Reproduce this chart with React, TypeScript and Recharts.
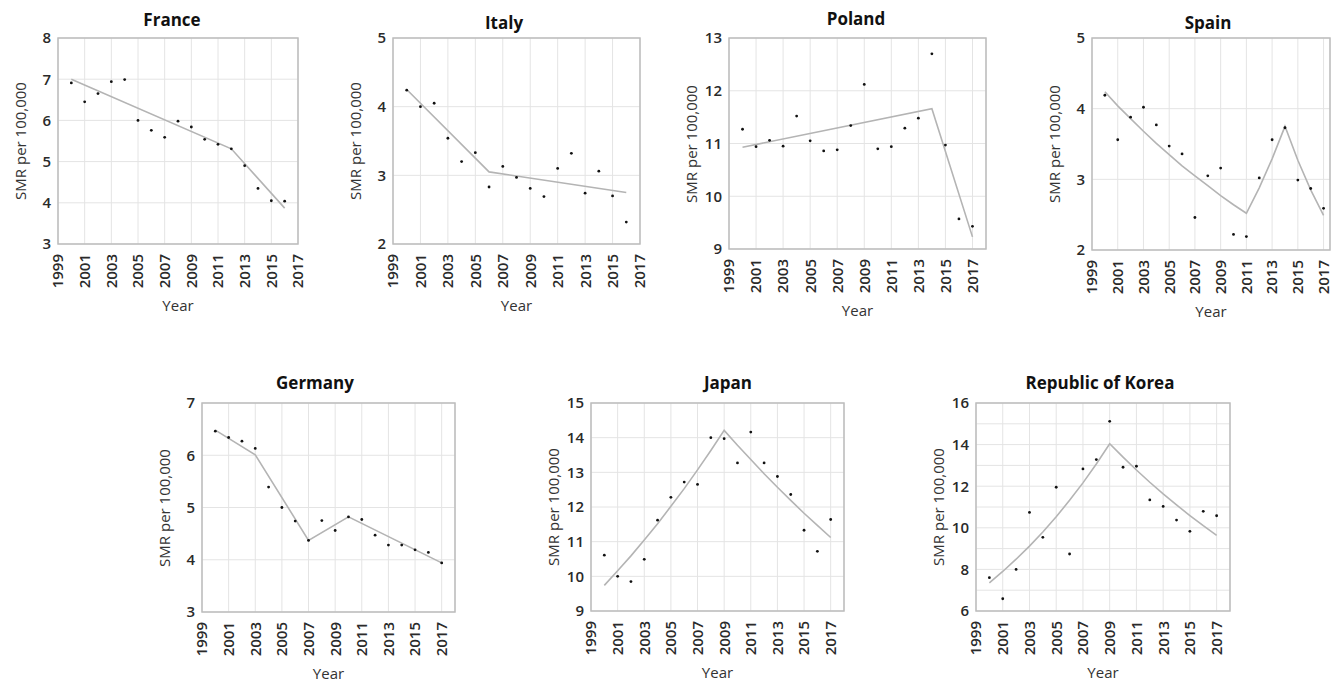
import React from "react";
import {
  LineChart,
  Line,
  XAxis,
  YAxis,
  CartesianGrid,
  ReferenceArea,
} from "recharts";

const FONT = '"Open Sans", "DejaVu Sans", sans-serif';

const years = [2000, 2001, 2002, 2003, 2004, 2005, 2006, 2007, 2008, 2009, 2010, 2011, 2012, 2013, 2014, 2015, 2016, 2017];
const yearTicks = [1999, 2001, 2003, 2005, 2007, 2009, 2011, 2013, 2015, 2017];

const franceSmr = [6.91, 6.45, 6.65, 6.94, 6.99, 6.0, 5.76, 5.59, 5.98, 5.84, 5.54, 5.42, 5.31, 4.9, 4.35, 4.05, 4.04, null];
const franceTrend = [7.0, null, null, null, null, null, null, null, null, null, null, null, 5.31, null, null, null, 3.87, null];

const italySmr = [4.24, 4.0, 4.05, 3.54, 3.2, 3.33, 2.83, 3.13, 2.97, 2.81, 2.69, 3.1, 3.32, 2.74, 3.06, 2.7, 2.32, null];
const italyTrend = [4.25, null, null, null, null, null, 3.05, null, null, null, null, null, null, null, null, null, 2.75, null];

const polandSmr = [11.27, 10.94, 11.06, 10.95, 11.52, 11.05, 10.86, 10.88, 11.34, 12.12, 10.9, 10.94, 11.29, 11.48, 12.7, 10.97, 9.57, 9.43];
const polandTrend = [10.93, null, null, null, null, null, null, null, null, null, null, null, null, null, 11.66, null, null, 9.23];

const spainSmr = [4.19, 3.56, 3.88, 4.02, 3.77, 3.47, 3.36, 2.46, 3.05, 3.16, 2.22, 2.19, 3.02, 3.56, 3.73, 2.99, 2.87, 2.59];
const spainTrend = [4.24, 4.04, 3.86, 3.68, 3.51, 3.35, 3.19, 3.05, 2.91, 2.77, 2.64, 2.52, 2.88, 3.29, 3.75, 3.27, 2.85, 2.49];

const germanySmr = [6.46, 6.34, 6.27, 6.13, 5.39, 5.0, 4.74, 4.37, 4.75, 4.56, 4.82, 4.77, 4.47, 4.28, 4.28, 4.19, 4.14, 3.94];
const germanyTrend = [6.48, null, null, 6.01, null, null, null, 4.37, null, null, 4.82, null, null, null, null, null, null, 3.94];

const japanSmr = [10.61, 10.0, 9.85, 10.49, 11.62, 12.28, 12.72, 12.65, 14.0, 13.97, 13.27, 14.16, 13.27, 12.88, 12.36, 11.33, 10.72, 11.64];
const japanTrend = [9.74, 10.16, 10.59, 11.05, 11.52, 12.02, 12.53, 13.07, 13.63, 14.21, 13.78, 13.37, 12.96, 12.57, 12.19, 11.82, 11.47, 11.12];

const koreaSmr = [7.6, 6.59, 8.0, 10.74, 9.54, 11.95, 8.74, 12.83, 13.28, 15.12, 12.91, 12.96, 11.34, 11.03, 10.37, 9.83, 10.79, 10.58];
const koreaTrend = [7.35, 7.9, 8.49, 9.12, 9.8, 10.53, 11.32, 12.16, 13.07, 14.04, 13.4, 12.78, 12.19, 11.63, 11.1, 10.59, 10.1, 9.64];

const toRows = (smr: (number | null)[], trend: (number | null)[]) =>
  years.map((year, i) => ({ year, smr: smr[i], trend: trend[i] }));

interface PanelProps {
  title: string;
  titleX: number;
  titleY: number;
  l: number;
  t: number;
  r: number;
  b: number;
  xMax: number;
  yTicks: number[];
  evenOnly?: boolean;
  smr: (number | null)[];
  trend: (number | null)[];
}

const MT = 14; // chart top margin
const MR = 14; // chart right margin

const YearTick = (props: any) => {
  const { x, y, payload } = props;
  return (
    <text
      x={x}
      y={y}
      transform={`rotate(-90 ${x} ${y})`}
      textAnchor="end"
      dy="0.36em"
      fontSize={15}
      fontWeight={600}
      fill="#2a2a2a"
      fontFamily={FONT}
    >
      {payload.value}
    </text>
  );
};

function Panel(p: PanelProps) {
  const yMin = p.yTicks[0];
  const yMax = p.yTicks[p.yTicks.length - 1];
  const w = p.r - p.l + 60 + MR;
  const h = p.b - p.t + MT + 72;
  return (
    <>
      <div
        style={{
          position: "absolute",
          left: p.titleX - 120,
          top: p.titleY - 11,
          width: 240,
          height: 22,
          lineHeight: "22px",
          textAlign: "center",
          fontFamily: FONT,
          fontWeight: 700,
          fontSize: 17,
          color: "#111",
        }}
      >
        {p.title}
      </div>
      <div
        style={{
          position: "absolute",
          left: p.l - 38 - 100,
          top: (p.t + p.b) / 2 - 10,
          width: 200,
          height: 20,
          lineHeight: "20px",
          textAlign: "center",
          transform: "rotate(-90deg)",
          fontFamily: FONT,
          fontSize: 15,
          color: "#333",
        }}
      >
        SMR per 100,000
      </div>
      <div
        style={{
          position: "absolute",
          left: (p.l + p.r) / 2 - 50,
          top: p.b + 61 - 10,
          width: 100,
          height: 20,
          lineHeight: "20px",
          textAlign: "center",
          fontFamily: FONT,
          fontSize: 15,
          color: "#333",
        }}
      >
        Year
      </div>
      <div style={{ position: "absolute", left: p.l - 60, top: p.t - MT }}>
        <LineChart
          width={w}
          height={h}
          data={toRows(p.smr, p.trend)}
          margin={{ top: MT, right: MR, left: 0, bottom: 0 }}
        >
          <CartesianGrid stroke="#e4e4e4" strokeWidth={1} />
          <XAxis
            type="number"
            dataKey="year"
            domain={[1999, p.xMax]}
            ticks={yearTicks}
            interval={0}
            height={72}
            tickSize={0}
            tickMargin={10}
            axisLine={false}
            tick={<YearTick />}
          />
          <YAxis
            type="number"
            domain={[yMin, yMax]}
            ticks={p.yTicks}
            interval={0}
            width={60}
            tickSize={0}
            tickMargin={7}
            axisLine={false}
            tick={{ fontSize: 15, fontWeight: 600, fill: "#2a2a2a", fontFamily: FONT }}
            tickFormatter={(v: number) => (p.evenOnly && v % 2 !== 0 ? "" : String(v))}
          />
          <ReferenceArea
            x1={1999}
            x2={p.xMax}
            y1={yMin}
            y2={yMax}
            fill="none"
            stroke="#bdbdbd"
            strokeWidth={1.5}
            fillOpacity={0}
          />
          <Line
            type="linear"
            dataKey="trend"
            stroke="#b4b4b4"
            strokeWidth={1.6}
            dot={false}
            activeDot={false}
            connectNulls
            isAnimationActive={false}
          />
          <Line
            type="linear"
            dataKey="smr"
            stroke="none"
            dot={{ r: 1.4, fill: "#111", stroke: "none" }}
            activeDot={false}
            isAnimationActive={false}
          />
        </LineChart>
      </div>
    </>
  );
}

export default function App() {
  return (
    <div
      style={{
        position: "absolute",
        left: 0,
        top: 0,
        width: 1340,
        height: 682,
        background: "#fff",
        overflow: "hidden",
      }}
    >
      <Panel title="France" titleX={172} titleY={20} l={58} t={38} r={298} b={244} xMax={2017} yTicks={[3, 4, 5, 6, 7, 8]} smr={franceSmr} trend={franceTrend} />
      <Panel title="Italy" titleX={504} titleY={23} l={393} t={38} r={640} b={244} xMax={2017} yTicks={[2, 3, 4, 5]} smr={italySmr} trend={italyTrend} />
      <Panel title="Poland" titleX={856} titleY={19} l={729} t={38} r={986} b={249} xMax={2018} yTicks={[9, 10, 11, 12, 13]} smr={polandSmr} trend={polandTrend} />
      <Panel title="Spain" titleX={1208} titleY={23} l={1092} t={38} r={1330} b={250} xMax={2017.5} yTicks={[2, 3, 4, 5]} smr={spainSmr} trend={spainTrend} />
      <Panel title="Germany" titleX={315} titleY={383} l={202} t={403} r={455} b={612} xMax={2018} yTicks={[3, 4, 5, 6, 7]} smr={germanySmr} trend={germanyTrend} />
      <Panel title="Japan" titleX={728} titleY={383} l={591} t={403} r={844} b={611} xMax={2018} yTicks={[9, 10, 11, 12, 13, 14, 15]} smr={japanSmr} trend={japanTrend} />
      <Panel title="Republic of Korea" titleX={1100} titleY={383} l={976} t={403} r={1230} b={611} xMax={2018} yTicks={[6, 7, 8, 9, 10, 11, 12, 13, 14, 15, 16]} evenOnly smr={koreaSmr} trend={koreaTrend} />
    </div>
  );
}
